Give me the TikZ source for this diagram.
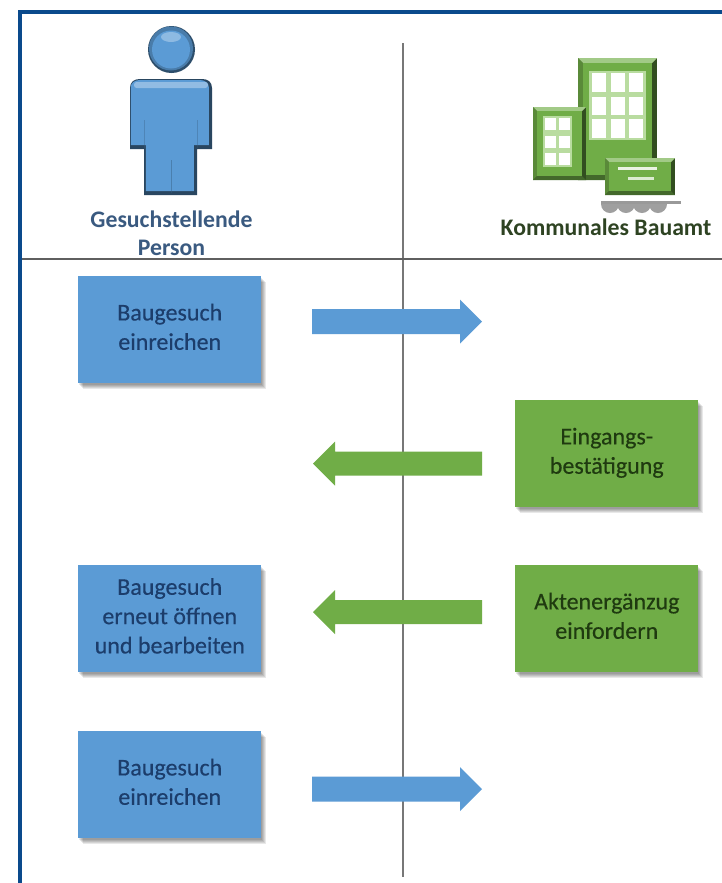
\documentclass[tikz,border=0pt]{standalone}
\usepackage{fontspec}
\setmainfont{Carlito}
\newfontfamily\boxfont[FakeBold=0.35]{Carlito}
\usetikzlibrary{calc}
\definecolor{frameblue}{HTML}{0A4A8C}
\definecolor{boxblue}{HTML}{5B9BD5}
\definecolor{boxgreen}{HTML}{70AD47}
\definecolor{txtblue}{HTML}{1C3D6B}
\definecolor{txtgreen}{HTML}{1F3A10}
\definecolor{headblue}{HTML}{3A5A80}
\definecolor{headgreen}{HTML}{2E4322}
\definecolor{rulegrey}{HTML}{777777}
\definecolor{winline}{HTML}{B9DCA0}
\tikzset{
 x=0.75pt,y=-0.75pt,
 bluebox/.style={fill=boxblue,text=txtblue,align=center,font=\boxfont\fontsize{18}{22}\selectfont,minimum width=137.25pt,minimum height=80.25pt,inner sep=0pt,anchor=north west,text depth=4.5pt},
 greenbox/.style={bluebox,fill=boxgreen,text=txtgreen},
 headlabel/.style={font=\bfseries\fontsize{17.8}{21}\selectfont,align=center,inner sep=0pt},
 rulev/.style={draw=rulegrey,line width=1.5pt},
 ruleh/.style={draw=rulegrey!80!black,line width=1.3pt},
}
\newcommand{\rarrow}[2]{%
 \fill[#2] (312,#1-12.5) -- (460,#1-12.5) -- (460,#1-22) -- (482,#1) -- (460,#1+22) -- (460,#1+12.5) -- (312,#1+12.5) -- cycle;}
\newcommand{\larrow}[2]{%
 \fill[#2] (482,#1-12) -- (335,#1-12) -- (335,#1-22) -- (313,#1) -- (335,#1+22) -- (335,#1+12) -- (482,#1+12) -- cycle;}
\newcommand{\softshadow}[2]{%
 \foreach \d in {7,6,5,4,3}{\fill[black,opacity=.09] (#1+\d-2,#2+\d-1) rectangle ++(183,107);}}
\newcommand{\bevelrect}[5]{% x1 y1 x2 y2 bevel
 \fill[boxgreen!45!black] (#1,#2) rectangle (#3,#4);
 \fill[boxgreen!65!white] (#1,#2) -- (#3,#2) -- (#3-#5,#2+#5) -- (#1+#5,#2+#5) -- cycle;
 \fill[boxgreen!80!black] (#1,#2) -- (#1+#5,#2+#5) -- (#1+#5,#4-#5) -- (#1,#4) -- cycle;
 \fill[boxgreen!60!black] (#1,#4) -- (#1+#5,#4-#5) -- (#3-#5,#4-#5) -- (#3,#4) -- cycle;
 \fill[boxgreen] (#1+#5,#2+#5) rectangle (#3-#5,#4-#5);}
\begin{document}
\begin{tikzpicture}
\useasboundingbox (0,0) rectangle (722,883);
\fill[white] (0,0) rectangle (722,883);
\draw[frameblue,line width=3pt] (20,883) -- (20,12) -- (722,12);
% rules
\coordinate (vtop) at (403,43); \coordinate (vbot) at (403,877);
\coordinate (hl) at (22,259); \coordinate (hr) at (722,259);
\draw[rulev] (vtop) -- (vbot);
\draw[ruleh] (hl) -- (hr);
% person
\fill[boxblue!50!black] (171.5,49.5) circle (23.5);
\fill[boxblue!80!black] (171,48.5) circle (22);
\fill[boxblue] (171,49.5) circle (19);
\fill[boxblue!55!white,opacity=.7] (171,37) ellipse (10 and 5);
\def\bodyshape{(130,149) -- (130,88) .. controls (130,82) and (134,79) .. (140,79) -- (202,79) .. controls (208,79) and (212,82) .. (212,88) -- (212,149) -- (197,149) -- (197,195) -- (144,195) -- (144,149) -- cycle}
\fill[boxblue!45!black] \bodyshape;
\begin{scope}[shift={(-1.2,-1)}]
\path[fill=boxblue] (132,146) -- (132,88) .. controls (132,84) and (136,81) .. (141,81) -- (201,81) .. controls (206,81) and (210,84) .. (210,88) -- (210,146) -- (195,146) -- (195,192) -- (147,192) -- (147,146) -- cycle;
\end{scope}
\fill[boxblue!55!white,opacity=.75,rounded corners=2pt] (134,82) rectangle (208,88);
\draw[boxblue!60!black,line width=.4pt,opacity=.45] (171,160) -- (171,193);
\draw[boxblue!60!black,line width=.4pt,opacity=.35] (144,120) -- (144,148) (197,120) -- (197,148);
\node[headlabel,text=headblue] (lp) at (171.5,233) {Gesuchstellende\\Person};
% building
\bevelrect{578}{58}{657}{180}{5}
\bevelrect{533}{107}{586}{180}{4}
\fill[winline] (589,71) rectangle (646,140);
\foreach \x in {592,611,629}{\foreach \y/\h in {73/19,97/18,119/19}{\fill[white] (\x,\y) rectangle ++(14,\h);}}
\fill[winline] (543,116) rectangle (572,167);
\foreach \x in {545,559}{\foreach \y in {118,136,153}{\fill[white] (\x,\y) rectangle ++(11,12);}}
\foreach \x in {610,626,642,658}{\fill[gray!75] (\x-9,204) arc[start angle=180,end angle=0,radius=9,y radius=9] -- cycle;}
\fill[gray!80] (601,201) rectangle (681,204);
\bevelrect{605}{158}{675}{195}{4}
\fill[white!85!boxgreen] (618,167) rectangle (657,170);
\fill[white!75!boxgreen] (628,177) rectangle (654,179.5);
\node[headlabel,text=headgreen] (lb) at (606,227) {Kommunales Bauamt};
% boxes
\softshadow{78}{276}\softshadow{78}{565}\softshadow{78}{731}\softshadow{515}{400}\softshadow{515}{565}
\node[bluebox] (b1) at (78,276) {Baugesuch\\einreichen};
\node[greenbox] (g1) at (515,400) {Eingangs-\\bestätigung};
\node[bluebox] (b2) at (78,565) {Baugesuch\\erneut öffnen\\und bearbeiten};
\node[greenbox] (g2) at (515,565) {Aktenergänzug\\einfordern};
\node[bluebox] (b3) at (78,731) {Baugesuch\\einreichen};
% arrows
\rarrow{321.5}{boxblue}
\larrow{463.5}{boxgreen}
\larrow{612}{boxgreen}
\rarrow{789}{boxblue}
\end{tikzpicture}
\end{document}
